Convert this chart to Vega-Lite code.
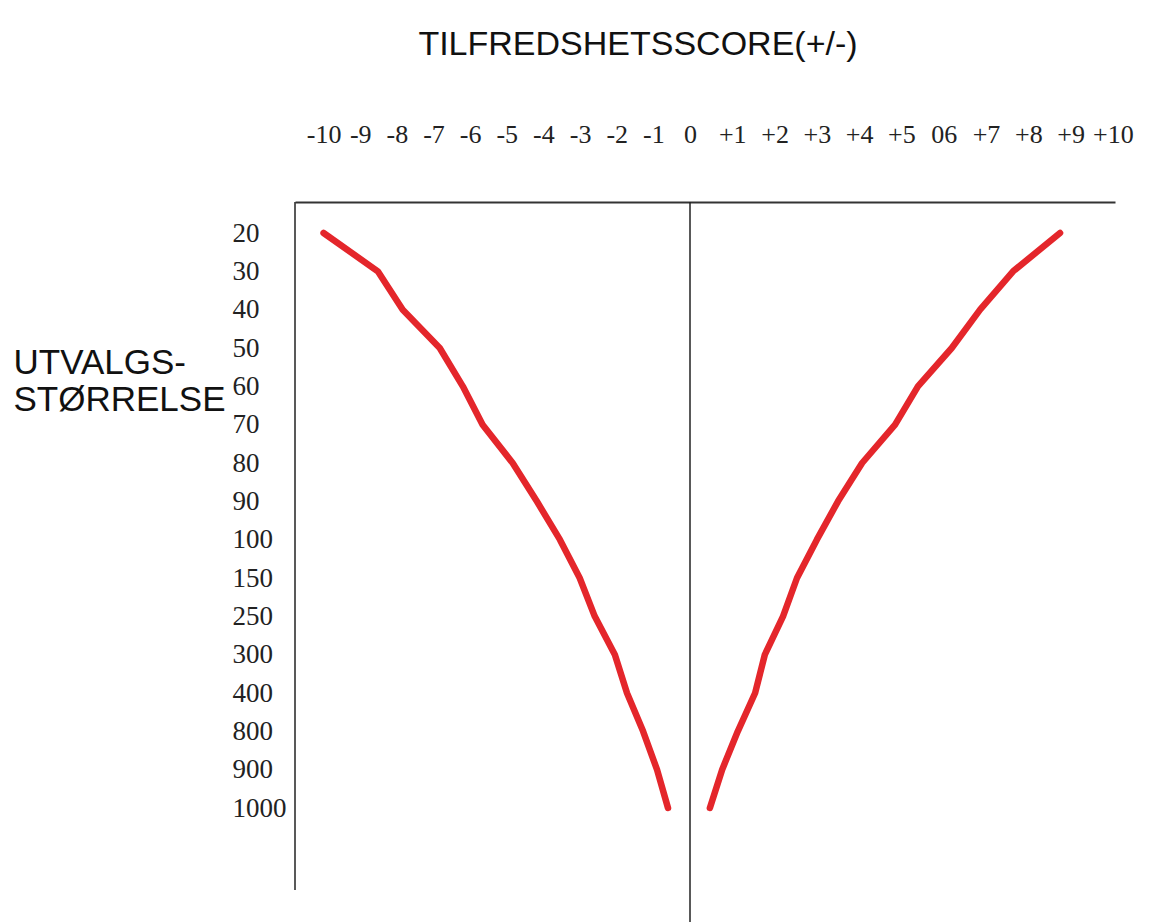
{
  "$schema": "https://vega.github.io/schema/vega-lite/v6.json",
  "width": 820,
  "height": 688,
  "autosize": {"type": "none"},
  "padding": {"left": 295, "top": 202, "right": 38, "bottom": 32},
  "background": "white",
  "config": {"view": {"stroke": null}},
  "title": {
    "text": "TILFREDSHETSSCORE(+/-)",
    "font": "Liberation Sans",
    "fontSize": 34,
    "fontWeight": "normal",
    "color": "#111111",
    "anchor": "middle",
    "frame": "group",
    "dx": -67,
    "offset": 59
  },
  "layer": [
    {
      "data": {
        "values": [
          {"n": "20", "side": "L", "score": -10.0},
          {"n": "30", "side": "L", "score": -8.52},
          {"n": "40", "side": "L", "score": -7.84},
          {"n": "50", "side": "L", "score": -6.83},
          {"n": "60", "side": "L", "score": -6.2},
          {"n": "70", "side": "L", "score": -5.66},
          {"n": "80", "side": "L", "score": -4.84},
          {"n": "90", "side": "L", "score": -4.18},
          {"n": "100", "side": "L", "score": -3.55},
          {"n": "150", "side": "L", "score": -3.01},
          {"n": "250", "side": "L", "score": -2.6},
          {"n": "300", "side": "L", "score": -2.05},
          {"n": "400", "side": "L", "score": -1.72},
          {"n": "800", "side": "L", "score": -1.28},
          {"n": "900", "side": "L", "score": -0.9},
          {"n": "1000", "side": "L", "score": -0.6},
          {"n": "20", "side": "R", "score": 8.75},
          {"n": "30", "side": "R", "score": 7.64},
          {"n": "40", "side": "R", "score": 6.86},
          {"n": "50", "side": "R", "score": 6.19},
          {"n": "60", "side": "R", "score": 5.39},
          {"n": "70", "side": "R", "score": 4.85},
          {"n": "80", "side": "R", "score": 4.07},
          {"n": "90", "side": "R", "score": 3.5},
          {"n": "100", "side": "R", "score": 3.0},
          {"n": "150", "side": "R", "score": 2.53},
          {"n": "250", "side": "R", "score": 2.2},
          {"n": "300", "side": "R", "score": 1.77},
          {"n": "400", "side": "R", "score": 1.54},
          {"n": "800", "side": "R", "score": 1.13},
          {"n": "900", "side": "R", "score": 0.76},
          {"n": "1000", "side": "R", "score": 0.47}
        ]
      },
      "mark": {"type": "line", "color": "#e4262b", "strokeWidth": 6.5, "strokeCap": "round", "strokeJoin": "round"},
      "encoding": {
        "y": {
          "field": "n",
          "type": "ordinal",
          "sort": ["20", "30", "40", "50", "60", "70", "80", "90", "100", "150", "250", "300", "400", "800", "900", "1000"],
          "scale": {"type": "point", "padding": 0, "range": [31, 606]},
          "axis": {
            "title": ["UTVALGS-", "STØRRELSE"],
            "titleFont": "Liberation Sans",
            "titleFontSize": 35,
            "titleFontWeight": "normal",
            "titleColor": "#111111",
            "titleAngle": 0,
            "titleAlign": "left",
            "titleBaseline": "top",
            "titleX": -282,
            "titleY": 143,
            "titleLineHeight": 37,
            "labelFont": "Liberation Serif",
            "labelFontSize": 27,
            "labelColor": "#222222",
            "labelAlign": "left",
            "labelBaseline": "middle",
            "labelPadding": 63,
            "ticks": false,
            "tickSize": 0,
            "domain": false,
            "grid": false
          }
        },
        "x": {
          "field": "score",
          "type": "quantitative",
          "scale": {"domain": [-10.78, 0, 10.05], "range": [0, 395, 820], "nice": false, "zero": false},
          "axis": {
            "orient": "top",
            "title": null,
            "values": [-10, -9, -8, -7, -6, -5, -4, -3, -2, -1, 0, 1, 2, 3, 4, 5, 6, 7, 8, 9, 10],
            "labelExpr": "datum.value == 6 ? '06' : (datum.value > 0 ? '+' : (datum.value < 0 ? '-' : '')) + abs(datum.value)",
            "labelFont": "Liberation Serif",
            "labelFontSize": 26,
            "labelColor": "#222222",
            "labelPadding": 55,
            "labelBaseline": "bottom",
            "labelOverlap": false,
            "labelFlush": false,
            "ticks": false,
            "tickSize": 0,
            "domainColor": "#333333",
            "domainWidth": 2,
            "grid": false
          }
        },
        "detail": {"field": "side", "type": "nominal"}
      }
    },
    {
      "data": {"values": [{"score": -10.78, "top": 1, "bottom": 0}, {"score": 0, "top": 1, "bottom": -0.06}]},
      "mark": {"type": "rule", "color": "#222222", "strokeWidth": 1.5, "clip": false},
      "encoding": {
        "x": {"field": "score", "type": "quantitative"},
        "y": {"field": "top", "type": "quantitative", "scale": {"domain": [0, 1], "nice": false, "zero": false}, "axis": null},
        "y2": {"field": "bottom"}
      }
    }
  ],
  "resolve": {"scale": {"y": "independent"}}
}
